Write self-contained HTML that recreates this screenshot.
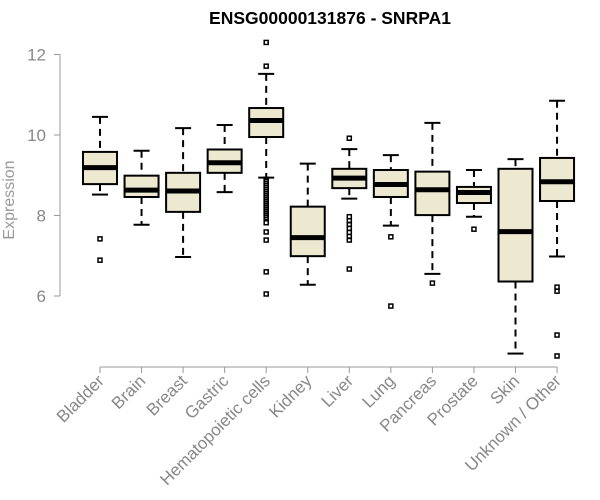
<!DOCTYPE html>
<html><head><meta charset="utf-8"><style>
body{margin:0;background:#fff;}
svg{display:block;font-family:"Liberation Sans",Arial,sans-serif;}
</style></head><body>
<svg id="chart" width="600" height="500">
<text x="330" y="24" text-anchor="middle" font-weight="bold" font-size="17.5" fill="#000">ENSG00000131876 - SNRPA1</text>
<text transform="translate(14,200) rotate(-90)" text-anchor="middle" font-size="16" fill="#999">Expression</text>
<g id="yaxis"></g>
<g id="xaxis"></g>
<g id="boxes"></g>
</svg>
<script>
const categories=["Bladder","Brain","Breast","Gastric","Hematopoietic cells","Kidney","Liver","Lung","Pancreas","Prostate","Skin","Unknown / Other"];
const whiskerLow=[8.52,7.77,6.97,8.58,8.94,6.28,8.42,7.75,6.55,7.97,4.57,6.98];
const q1=[8.78,8.46,8.09,9.06,9.95,6.99,8.68,8.46,8.01,8.31,6.36,8.36];
const medians=[9.19,8.63,8.61,9.31,10.36,7.45,8.93,8.77,8.64,8.57,7.60,8.84];
const q3=[9.58,8.99,9.06,9.64,10.67,8.22,9.16,9.13,9.09,8.71,9.16,9.43];
const whiskerHigh=[10.45,9.61,10.17,10.25,11.52,9.29,9.65,9.5,10.3,9.13,9.40,10.85];
const outliers=[[7.42,6.89],[],[],[],[12.30,11.71,8.9,8.85,8.8,8.75,8.7,8.65,8.6,8.55,8.5,8.45,8.4,8.35,8.3,8.25,8.2,8.15,8.1,8.05,8.0,7.95,7.82,7.59,7.39,6.6,6.05],[],[9.92,7.97,7.87,7.78,7.68,7.58,7.48,7.39,6.67],[7.47,5.75],[6.32],[7.66],[],[6.22,6.12,5.03,4.51]];
const yTicks=[6,8,10,12];
const NS="http://www.w3.org/2000/svg";
const y=v=>135-(v-10)*40.25;
const x=i=>100+i*41.55;
function mk(tag,attrs,parent){const e=document.createElementNS(NS,tag);for(const k in attrs)e.setAttribute(k,attrs[k]);parent.appendChild(e);return e;}
const ya=document.getElementById('yaxis'),xa=document.getElementById('xaxis'),bx=document.getElementById('boxes');
mk('line',{x1:60,x2:60,y1:y(12),y2:y(6),stroke:'#999'},ya);
yTicks.forEach(t=>{
 const l=mk('line',{x1:54,x2:60,y1:y(t),y2:y(t),stroke:'#999'},ya);
 
 
 const tx=mk('text',{x:46,y:y(t)+6,'text-anchor':'end','font-size':17,fill:'#888'},ya);
 tx.textContent=t;
 
 
});
mk('line',{x1:x(0),x2:x(categories.length-1),y1:367,y2:367,stroke:'#999'},xa);
categories.forEach((c,i)=>{
 const cx=x(i),w=17;
 const t=mk('line',{x1:cx,x2:cx,y1:367,y2:373,stroke:'#999'},xa);
 
 
 const lb=mk('text',{x:cx+5,y:382,'text-anchor':'end','font-size':17,fill:'#888',transform:`rotate(-45 ${cx+5} 382)`},xa);
 lb.textContent=c;
 
 
 const g=mk('g',{},bx);
 
 
 mk('line',{x1:cx,x2:cx,y1:y(whiskerHigh[i]),y2:y(q3[i]),stroke:'#000','stroke-width':2,'stroke-dasharray':'7,5'},g);
 mk('line',{x1:cx,x2:cx,y1:y(q1[i]),y2:y(whiskerLow[i]),stroke:'#000','stroke-width':2,'stroke-dasharray':'7,5'},g);
 mk('line',{x1:cx-8,x2:cx+8,y1:y(whiskerHigh[i]),y2:y(whiskerHigh[i]),stroke:'#000','stroke-width':2},g);
 mk('line',{x1:cx-8,x2:cx+8,y1:y(whiskerLow[i]),y2:y(whiskerLow[i]),stroke:'#000','stroke-width':2},g);
 mk('rect',{x:cx-w,y:y(q3[i]),width:2*w,height:y(q1[i])-y(q3[i]),fill:'#ede8d0',stroke:'#000','stroke-width':2},g);
 mk('line',{x1:cx-w,x2:cx+w,y1:y(medians[i]),y2:y(medians[i]),stroke:'#000','stroke-width':5},g);
 outliers[i].forEach(o=>{
  const p=mk('rect',{x:cx-2,y:y(o)-2,width:4,height:4,fill:'none',stroke:'#000','stroke-width':1.5},g);
  
  
 });
});
</script>
</body></html>
